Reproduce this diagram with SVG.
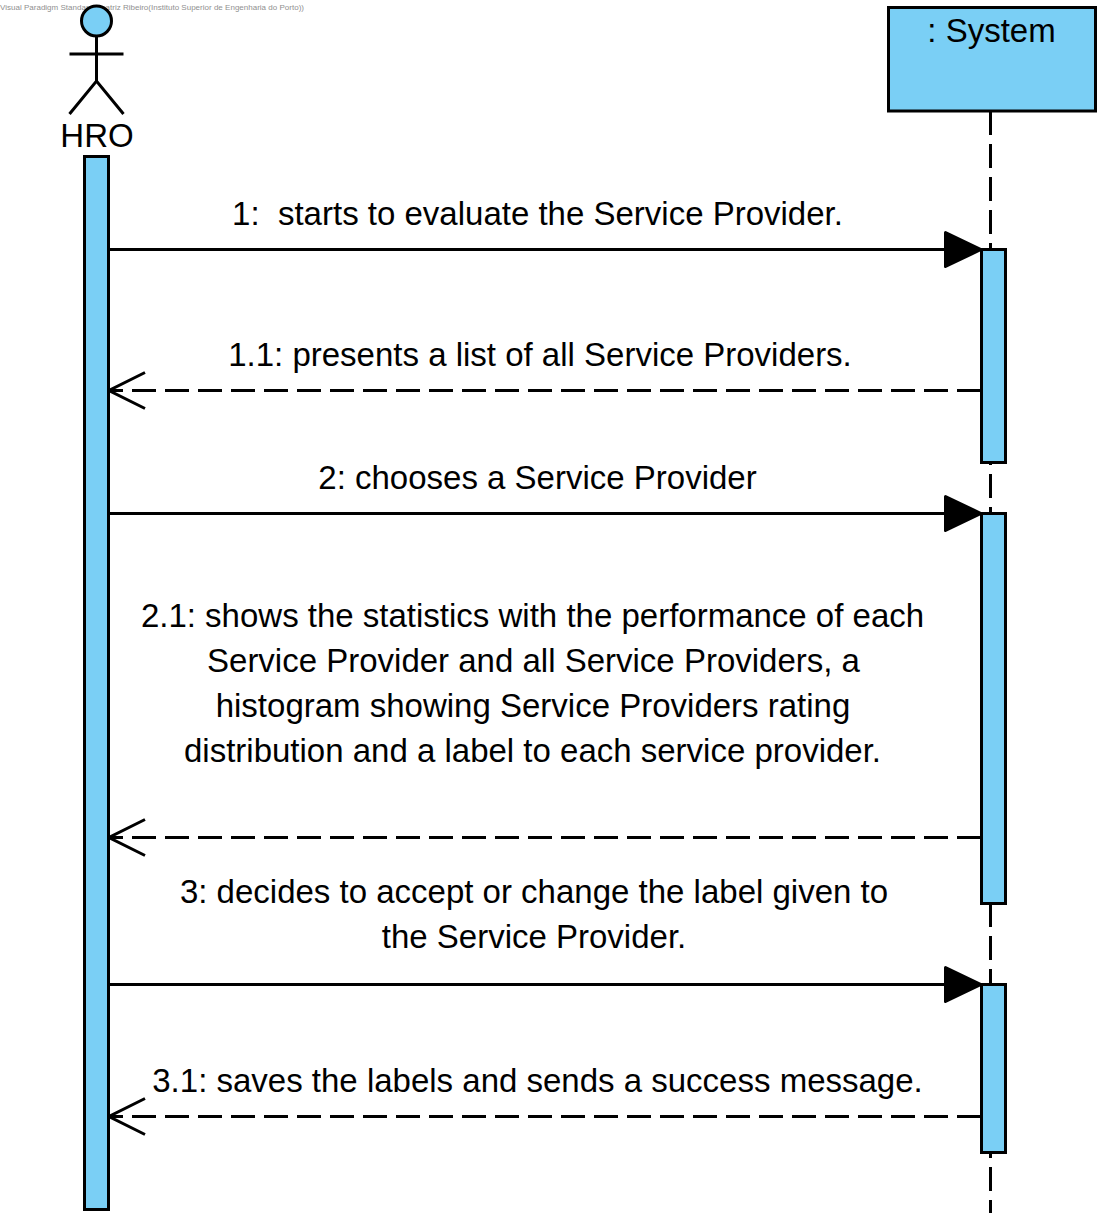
<svg xmlns="http://www.w3.org/2000/svg" width="1110" height="1224" viewBox="0 0 1110 1224">
<style>
.s{fill:#7ACFF5;stroke:#000;stroke-width:3}
.l{fill:none;stroke:#000;stroke-width:3}
.d{stroke-dasharray:24 9}
.t{font-family:"Liberation Sans",Arial,sans-serif;font-size:33px;fill:#000;text-anchor:middle;white-space:pre}
.wm{font-family:"Liberation Sans",Arial,sans-serif;font-size:8px;fill:#909090}
</style>
<defs>
<marker id="solid" markerUnits="userSpaceOnUse" markerWidth="44" markerHeight="44" refX="40" refY="22" orient="auto"><path d="M4.500 5 L40 22 L4.500 39 Z" fill="#000" stroke="#000" stroke-width="3" stroke-linejoin="round"/></marker>
<marker id="open" markerUnits="userSpaceOnUse" markerWidth="40" markerHeight="40" refX="38" refY="20" orient="auto"><path d="M2 2 L38 20 L2 38" fill="none" stroke="#000" stroke-width="3"/></marker>
</defs>
<text class="wm" x="0" y="10" textLength="304" lengthAdjust="spacing">Visual Paradigm Standard(Beatriz Ribeiro(Instituto Superior de Engenharia do Porto))</text>
<g id="lifeline-system"><path class="l d" d="M990.500 111V1213"/></g>
<g id="actor-HRO">
<circle class="s" cx="96.500" cy="21" r="15"/>
<path class="l" d="M96.500 36V81M69.500 54H123.500M69.500 114L96.500 81L123.500 114"/>
<text class="t" x="97" y="147">HRO</text>
</g>
<g id="system"><rect class="s" x="888.500" y="7.500" width="207" height="103.500"/><text class="t" x="991.500" y="42">: System</text></g>
<g id="activation-hro"><rect class="s" x="84.500" y="156.500" width="24" height="1053"/></g>
<g id="activation-s1"><rect class="s" x="981.500" y="249.500" width="24" height="213"/></g>
<g id="activation-s2"><rect class="s" x="981.500" y="513.500" width="24" height="390"/></g>
<g id="activation-s3"><rect class="s" x="981.500" y="984.500" width="24" height="168"/></g>
<g id="connectors">
<path class="l" d="M108 249.500H981" marker-end="url(#solid)"/>
<path class="l d" d="M981 390.500H109" marker-end="url(#open)"/>
<path class="l" d="M108 513.500H981" marker-end="url(#solid)"/>
<path class="l d" d="M981 837.500H109" marker-end="url(#open)"/>
<path class="l" d="M108 984.500H981" marker-end="url(#solid)"/>
<path class="l d" d="M981 1116.500H109" marker-end="url(#open)"/>
</g>
<g id="labels">
<text class="t" x="537.500" y="225">1:  starts to evaluate the Service Provider.</text>
<text class="t" x="540" y="366">1.1: presents a list of all Service Providers.</text>
<text class="t" x="537.500" y="489">2: chooses a Service Provider</text>
<text class="t" x="532.500" y="627">2.1: shows the statistics with the performance of each</text>
<text class="t" x="533.500" y="672">Service Provider and all Service Providers, a</text>
<text class="t" x="533" y="717">histogram showing Service Providers rating</text>
<text class="t" x="532.500" y="762">distribution and a label to each service provider.</text>
<text class="t" x="534" y="903">3: decides to accept or change the label given to</text>
<text class="t" x="534" y="948">the Service Provider.</text>
<text class="t" x="537.500" y="1092">3.1: saves the labels and sends a success message.</text>
</g>
</svg>
